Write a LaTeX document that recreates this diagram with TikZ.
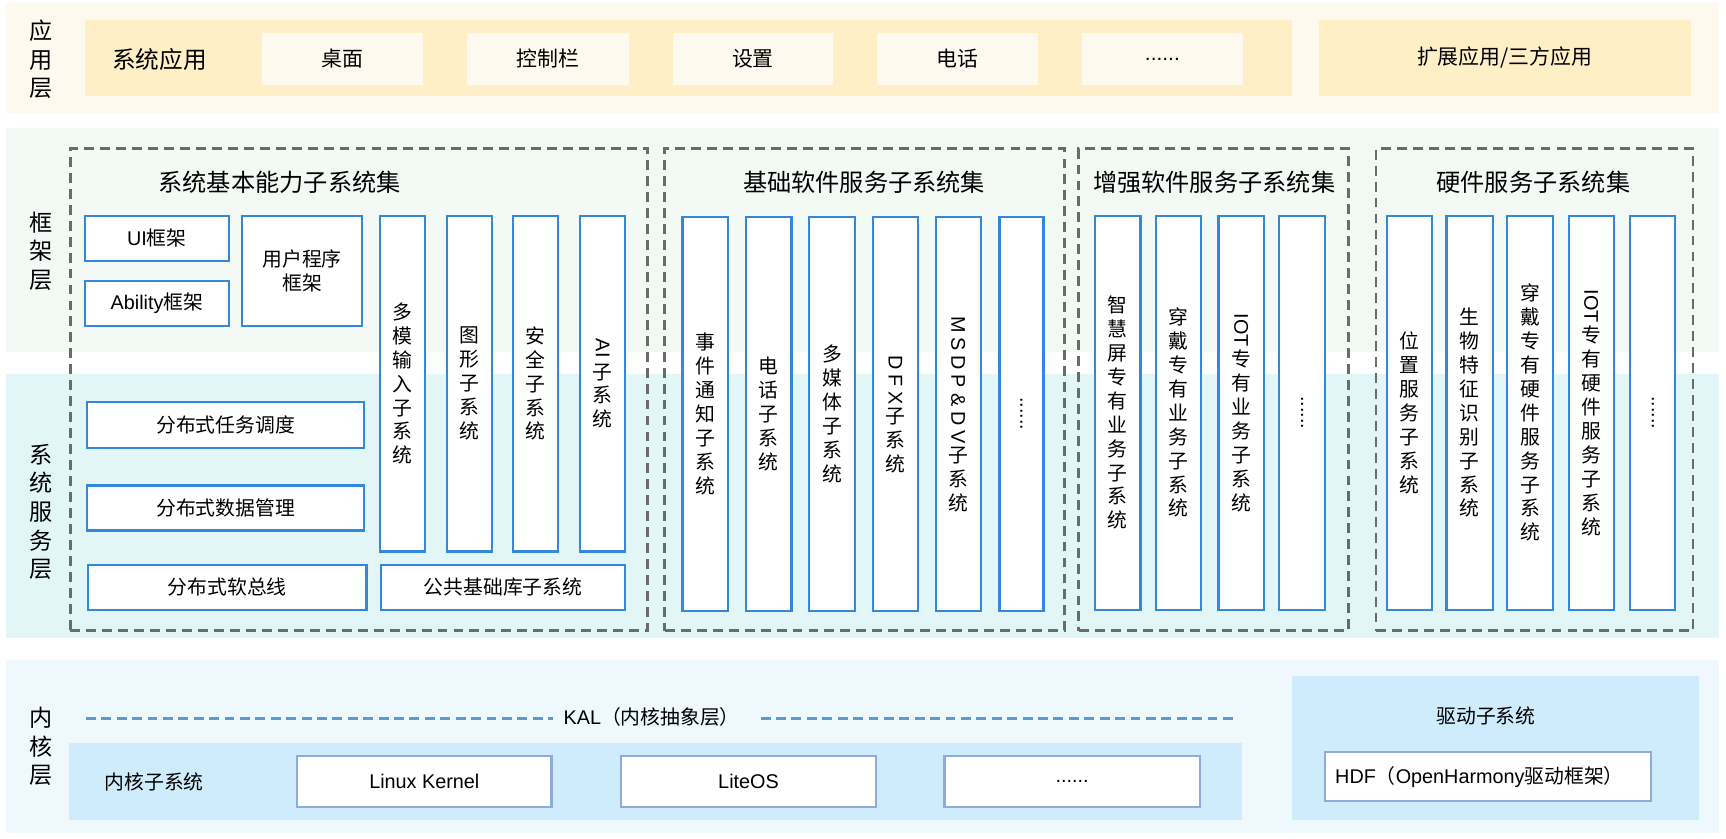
\documentclass[tikz,border=0pt]{standalone}
\usepackage{fontspec}
\usepackage{graphicx}
\setmainfont{Noto Sans CJK SC}
\newfontfamily\lat{Liberation Sans}
\newfontfamily\latsp[LetterSpace=25]{Liberation Sans}
\definecolor{appbg}{HTML}{FEF9EE}
\definecolor{appband}{HTML}{FFEFC6}
\definecolor{frmbg}{HTML}{F3F9F4}
\definecolor{svcbg}{HTML}{E2F6F7}
\definecolor{krnbg}{HTML}{EFF8FD}
\definecolor{krnband}{HTML}{CFECFC}
\definecolor{colblue}{HTML}{3388DD}
\definecolor{kbord}{HTML}{8FAADC}
\definecolor{dashgray}{HTML}{6B6B6B}
\definecolor{kaldash}{HTML}{5B9BD5}
\newcommand\bx[7]{%
  \node[#6, minimum width={(#4)-(#2)}, minimum height={(#5)-(#3)}] (#1) at ({((#2)+(#4))/2},{((#3)+(#5))/2}) {#7};}
\newcommand\rl[1]{\rotatebox[origin=c]{-90}{\lat #1}}
\newcommand\rls[1]{\rotatebox[origin=c]{-90}{\latsp #1}}
\newcommand\colfont{\fontsize{18}{21.7}\selectfont\lineskip=3pt\relax}
\begin{document}
\begin{tikzpicture}[x=1pt,y=-1pt,
  every node/.style={inner sep=0pt, outer sep=0pt, text=black},
  bg/.style={draw=none},
  cell/.style={fill=appbg, font=\fontsize{19}{22}\selectfont},
  band/.style={fill=appband},
  grp/.style={draw=dashgray, line width=2.5pt, dash pattern=on 9pt off 5.5pt},
  ttl/.style={font=\fontsize{22}{26}\selectfont},
  bluebox/.style={draw=colblue, line width=2pt, fill=white, align=center, font=\colfont},
  kbox/.style={draw=kbord, line width=2pt, fill=white, font=\fontsize{18}{21}\selectfont},
  lbl/.style={align=center, font=\fontsize{21}{26}\selectfont},
  txt/.style={font=\fontsize{18}{21}\selectfont},
  kal/.style={draw=kaldash, line width=3pt, dash pattern=on 9pt off 5pt}
]
\useasboundingbox (0,0) rectangle (1568,762);
\fill[white] (0,0) rectangle (1568,762);

% layer backgrounds
\bx{appL}{5}{3}{1562}{103}{bg,fill=appbg}{}
\bx{frmL}{5}{116}{1562}{320}{bg,fill=frmbg}{}
\bx{svcL}{5}{340}{1562}{580}{bg,fill=svcbg}{}
\bx{krnL}{5}{600}{1562}{757}{bg,fill=krnbg}{}

% layer labels
\node[lbl] (lapp) at (37,54) {应\\用\\层};
\node[lbl] (lfrm) at (37,228) {框\\架\\层};
\node[lbl] (lsvc) at (37,465) {系\\统\\服\\务\\层};
\node[lbl] (lkrn) at (37,678) {内\\核\\层};

% application layer
\bx{sysapp}{77}{18}{1174}{87}{band}{}
\node[font=\fontsize{21.5}{24}\selectfont] (sysappT) at (145,54) {系统应用};
\bx{c1}{238}{30}{384}{77}{cell}{桌面}
\bx{c2}{424}{30}{571}{77}{cell}{控制栏}
\bx{c3}{611}{30}{757}{77}{cell}{设置}
\bx{c4}{797}{30}{943}{77}{cell}{电话}
\bx{c5}{983}{30}{1129}{77}{cell}{{\lat ......}}
\bx{ext}{1198}{18}{1536}{87}{band,font=\fontsize{19}{22}\selectfont}{扩展应用/三方应用}

% subsystem groups
\bx{g1}{64}{135}{588}{573}{grp}{}
\bx{g2}{604}{135}{967}{573}{grp}{}
\bx{g3}{980}{135}{1225}{573}{grp}{}
\bx{g4}{1250}{135}{1538}{573}{grp}{}
\node[ttl] (t1) at (254,166) {系统基本能力子系统集};
\node[ttl] (t2) at (785,166) {基础软件服务子系统集};
\node[ttl] (t3) at (1103,166) {增强软件服务子系统集};
\node[ttl] (t4) at (1393,166) {硬件服务子系统集};

% group 1
\bx{ui}{77}{196}{208}{237}{bluebox}{{\lat UI}框架}
\bx{ab}{77}{255}{208}{296}{bluebox}{{\lat Ability}框架}
\bx{up}{220}{196}{329}{296}{bluebox}{用户程序\\框架}
\bx{mm}{345}{196}{386}{501}{bluebox}{多\\模\\输\\入\\子\\系\\统}
\bx{gr}{406}{196}{447}{501}{bluebox}{图\\形\\子\\系\\统}
\bx{aq}{466}{196}{507}{501}{bluebox}{安\\全\\子\\系\\统}
\bx{ai}{527}{196}{568}{501}{bluebox}{\rl{AI}\\子\\系\\统}
\bx{dt}{79}{365}{331}{407}{bluebox}{分布式任务调度}
\bx{dd}{79}{441}{331}{482}{bluebox}{分布式数据管理}
\bx{db}{80}{513}{333}{554}{bluebox}{分布式软总线}
\bx{pub}{346}{513}{568}{554}{bluebox}{公共基础库子系统}

% group 2
\bx{e1}{620}{197}{661}{555}{bluebox}{事\\件\\通\\知\\子\\系\\统}
\bx{e2}{678}{197}{719}{555}{bluebox}{电\\话\\子\\系\\统}
\bx{e3}{735}{197}{777}{555}{bluebox}{多\\媒\\体\\子\\系\\统}
\bx{e4}{793}{197}{834}{555}{bluebox}{\rls{DFX}\\子\\系\\统}
\bx{e5}{850}{197}{891}{555}{bluebox}{\rls{MSDP\&DV}\\子\\系\\统}
\bx{e6}{908}{197}{948}{555}{bluebox}{\rl{......}}

% group 3
\bx{h1}{995}{196}{1036}{554}{bluebox}{智\\慧\\屏\\专\\有\\业\\务\\子\\系\\统}
\bx{h2}{1050}{196}{1091}{554}{bluebox}{穿\\戴\\专\\有\\业\\务\\子\\系\\统}
\bx{h3}{1107}{196}{1148}{554}{bluebox}{\rl{IOT}\\专\\有\\业\\务\\子\\系\\统}
\bx{h4}{1162}{196}{1204}{554}{bluebox}{\rl{......}}

% group 4
\bx{w1}{1260}{196}{1301}{554}{bluebox}{位\\置\\服\\务\\子\\系\\统}
\bx{w2}{1314}{196}{1356}{554}{bluebox}{生\\物\\特\\征\\识\\别\\子\\系\\统}
\bx{w3}{1369}{196}{1411}{554}{bluebox}{穿\\戴\\专\\有\\硬\\件\\服\\务\\子\\系\\统}
\bx{w4}{1425}{196}{1466}{554}{bluebox}{\rl{IOT}\\专\\有\\硬\\件\\服\\务\\子\\系\\统}
\bx{w5}{1481}{196}{1522}{554}{bluebox}{\rl{......}}

% kernel layer
\coordinate (kalA) at (78,653);
\coordinate (kalB) at (1120,653);
\node[txt] (kalT) at (592,651) {{\lat KAL}（内核抽象层）};
\draw[kal, shorten >=10pt] (kalA) -- (kalA -| kalT.west);
\draw[kal, shorten <=19pt] (kalB -| kalT.east) -- (kalB);

\bx{kband}{63}{675}{1128}{745}{bg,fill=krnband}{}
\node[txt] (ksub) at (140,710) {内核子系统};
\bx{linux}{270}{687}{501}{733}{kbox}{{\lat Linux Kernel}}
\bx{lite}{564}{687}{796}{733}{kbox}{{\lat LiteOS}}
\bx{kdots}{858}{687}{1090}{733}{kbox}{{\lat ......}}

\bx{dband}{1174}{614}{1543}{745}{bg,fill=krnband}{}
\node[txt] (dsub) at (1350,650) {驱动子系统};
\bx{hdf}{1204}{683}{1500}{728}{kbox,text width=278pt,align=left}{{\lat HDF}（{\lat OpenHarmony}驱动框架）}
\end{tikzpicture}
\end{document}
